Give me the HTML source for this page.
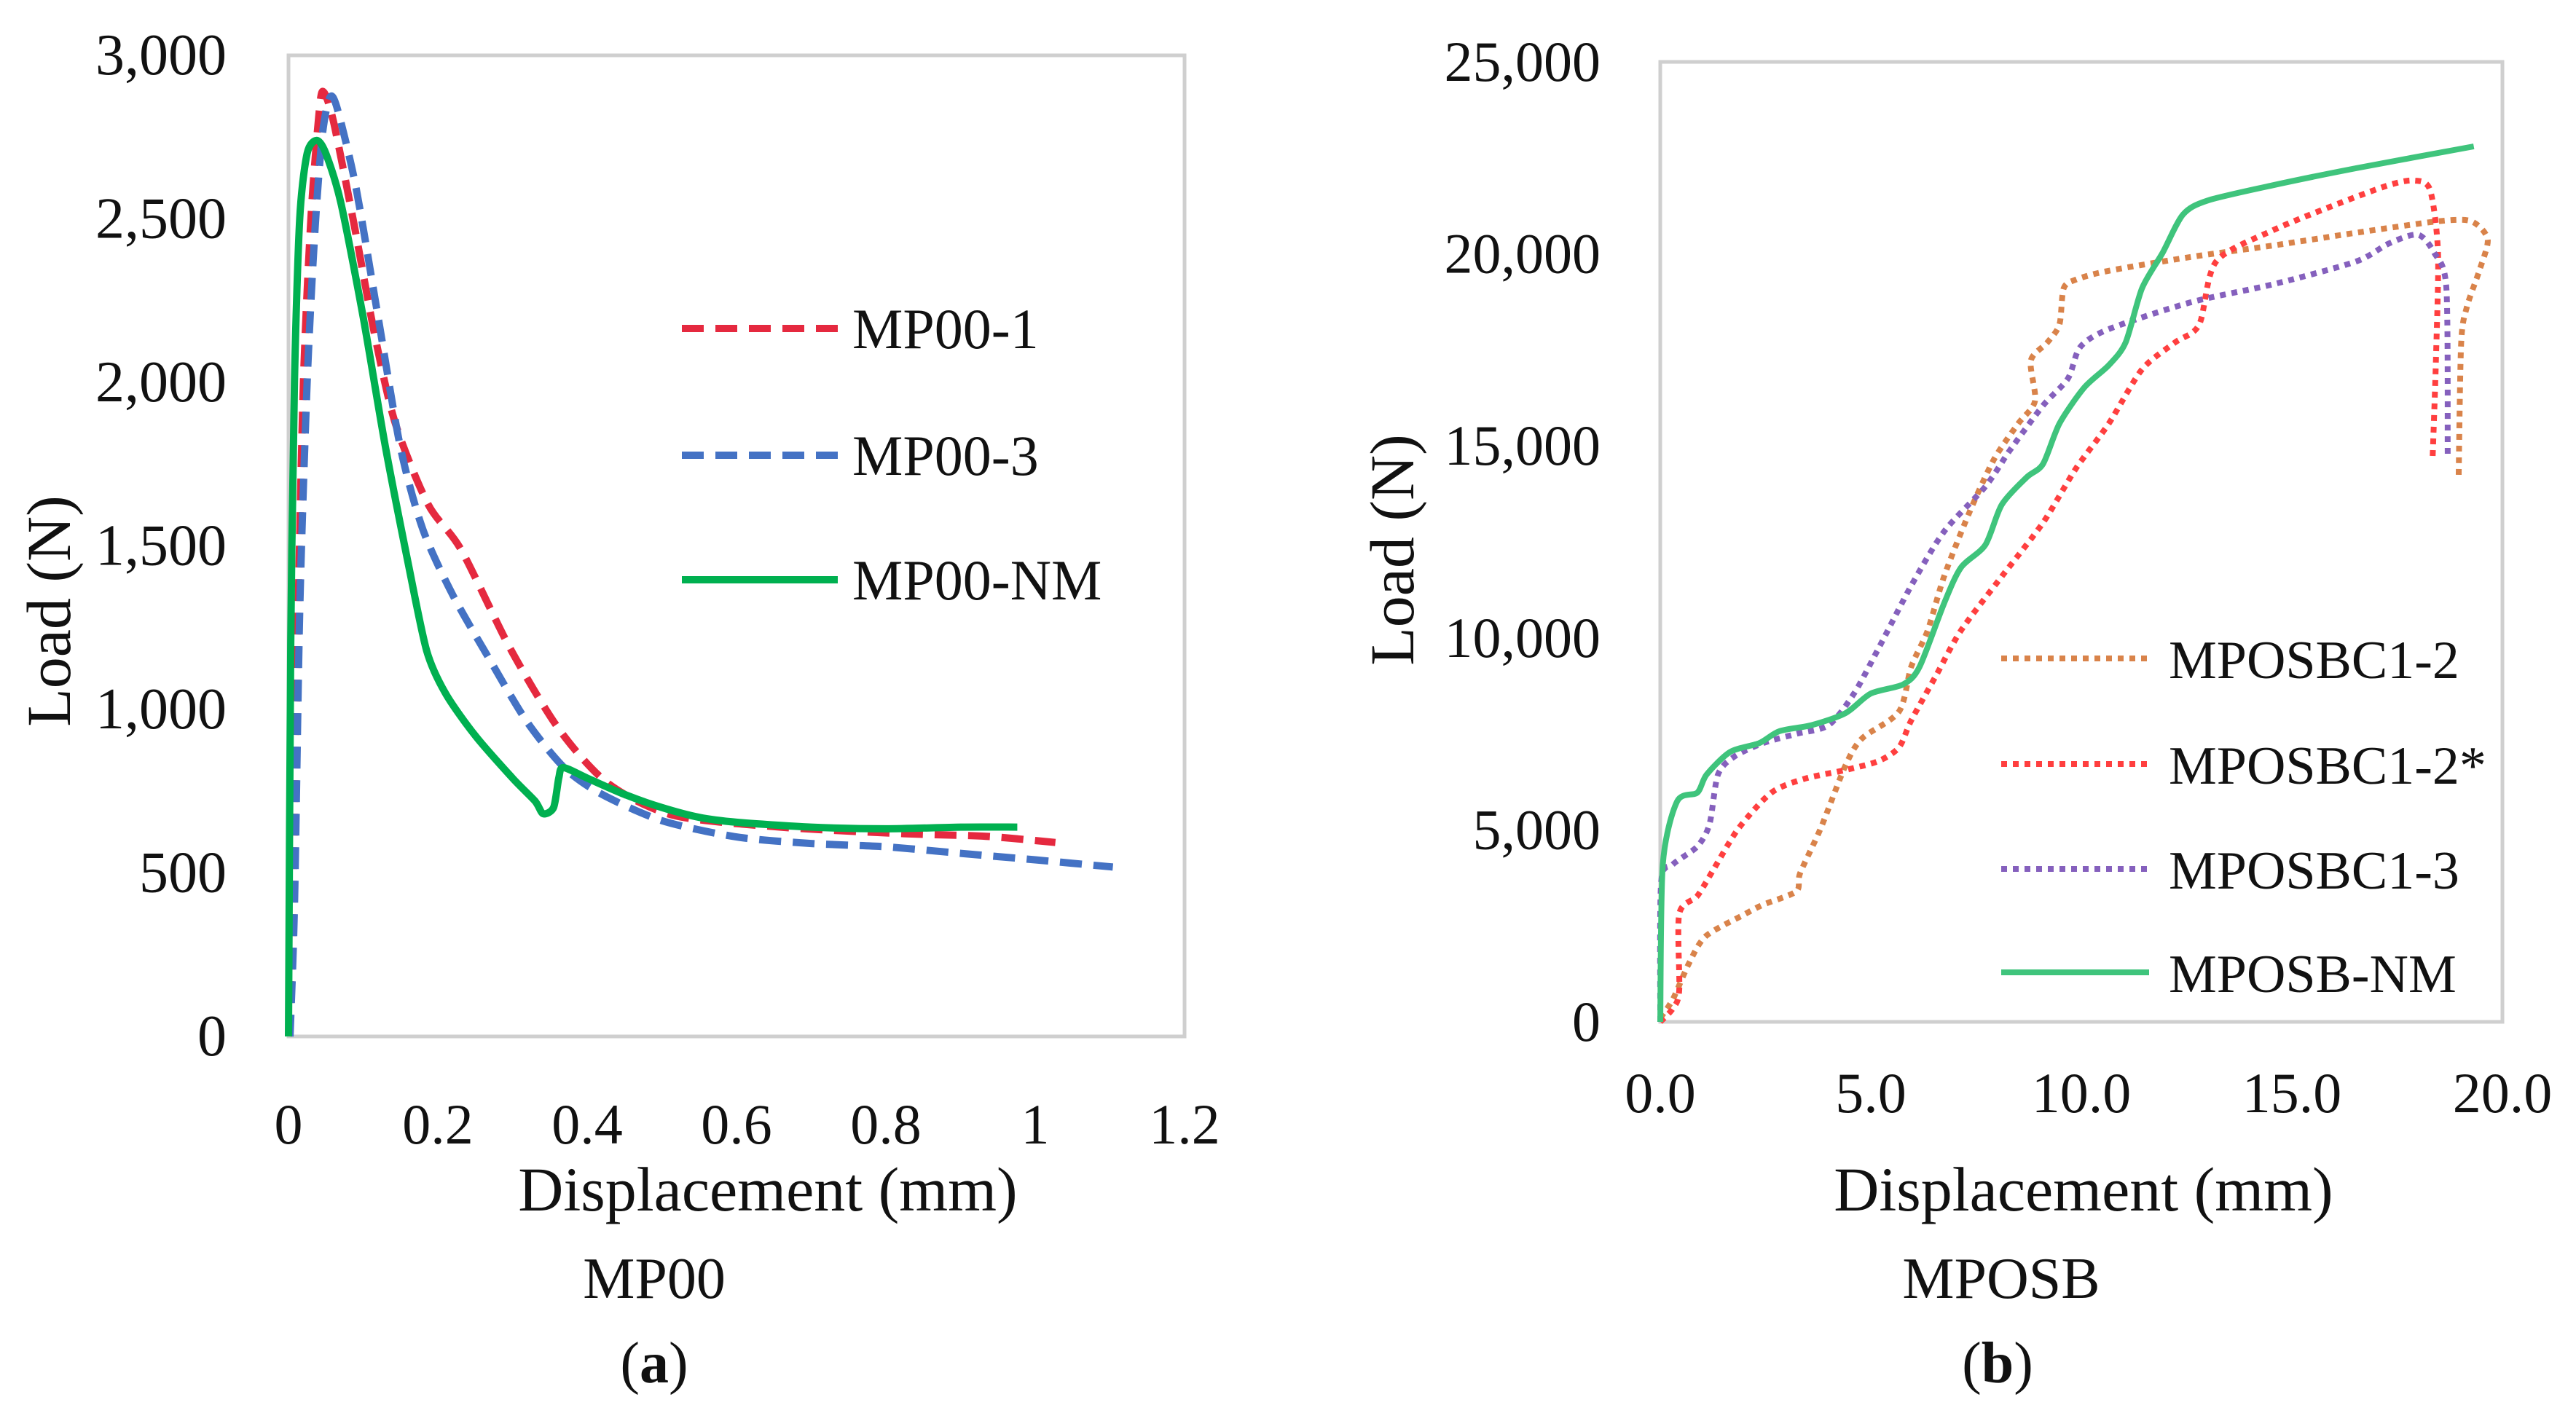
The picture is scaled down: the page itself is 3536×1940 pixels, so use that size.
<!DOCTYPE html>
<html><head><meta charset="utf-8"><style>
html,body{margin:0;padding:0;background:#fff}
svg{display:block}
text{font-family:"Liberation Serif",serif;fill:#111}
</style></head><body>
<svg id="fig" width="3536" height="1940" viewBox="0 0 3536 1940" xmlns="http://www.w3.org/2000/svg">
<g id="ga"></g>
<g id="gb"></g>
</svg>
<script>
// ---- Chart (a) data ----
const aXTicks = [0,0.2,0.4,0.6,0.8,1,1.2];
const aXTickLabels = ["0","0.2","0.4","0.6","0.8","1","1.2"];
const aYTicks = [0,500,1000,1500,2000,2500,3000];
const aYTickLabels = ["0","500","1,000","1,500","2,000","2,500","3,000"];
const aNames = ["MP00-1","MP00-3","MP00-NM"];
const mp001X = [0,0.005,0.012,0.02,0.03,0.04,0.046,0.06,0.088,0.115,0.143,0.187,0.231,0.297,0.363,0.429,0.516,0.659,0.824,0.934,1.027];
const mp001Y = [0,300,1200,2000,2500,2800,2890,2800,2481,2150,1875,1627,1489,1186,937,772,676,640,620,612,593];
const mp003X = [0.002,0.008,0.015,0.025,0.035,0.045,0.055,0.065,0.09,0.12,0.15,0.18,0.22,0.27,0.32,0.37,0.42,0.5,0.6,0.7,0.8,0.9,1.0,1.104];
const mp003Y = [0,400,1300,2000,2450,2750,2870,2840,2600,2200,1800,1550,1350,1150,960,820,740,660,610,590,580,560,540,518];
const mp00nmX = [0,0.003,0.008,0.015,0.025,0.038,0.05,0.07,0.1,0.13,0.16,0.185,0.21,0.25,0.3,0.33,0.341,0.355,0.362,0.368,0.4,0.45,0.5,0.55,0.6,0.7,0.8,0.9,0.976];
const mp00nmY = [0,1200,2000,2500,2700,2740,2700,2550,2200,1800,1450,1180,1050,920,790,720,681,700,790,822,790,740,700,670,655,640,635,640,640];

// ---- Chart (b) data ----
const bXTicks = [0,5,10,15,20];
const bXTickLabels = ["0.0","5.0","10.0","15.0","20.0"];
const bYTicks = [0,5000,10000,15000,20000,25000];
const bYTickLabels = ["0","5,000","10,000","15,000","20,000","25,000"];
const bNames = ["MPOSBC1-2","MPOSBC1-2*","MPOSBC1-3","MPOSB-NM"];
const c12X = [0,0.3,0.68,1.08,2.0,2.44,3.23,3.32,3.81,4.4,4.79,5.67,5.96,6.35,6.74,7.33,7.92,8.5,8.9,8.8,9.19,9.48,9.58,9.87,10.65,12.6,14.56,16.52,18.47,19.26,19.65,19.45,19.16,19.02,18.96];
const c12Y = [100,590,1520,2230,2800,3050,3400,3870,5040,6680,7380,8080,9250,10190,11600,13240,14640,15580,16170,17220,17690,18160,19100,19330,19560,19920,20220,20550,20850,20850,20380,19560,18630,17690,14180];
const c12sX = [0,0.3,0.45,0.45,0.88,1.27,1.86,2.64,3.42,4.4,5.18,5.67,5.96,6.55,7.14,8.11,9.09,9.87,10.65,11.44,12.22,12.8,13.2,14.56,16.13,17.3,17.89,18.28,18.47,18.42,18.34];
const c12sY = [0,350,820,2810,3280,3980,5040,5970,6330,6560,6790,7150,7850,9020,10190,11600,13000,14410,15580,16990,17690,18160,19800,20620,21320,21790,21910,21670,20030,17220,14640];
const c13X = [0,0.02,0.3,0.88,1.17,1.37,1.76,2.44,3.23,4.0,4.6,5.18,5.96,6.74,7.72,8.3,9.09,9.68,9.97,10.65,12.6,14.56,16.52,17.3,17.99,18.38,18.67,18.7];
const c13Y = [0,3630,4100,4570,5150,6440,6910,7260,7500,7730,8550,9720,11360,12770,13940,14880,16050,16750,17570,18040,18740,19210,19800,20270,20500,20030,19100,14760];
const nmX = [0,0.06,0.4,0.88,1.1,1.66,2.35,2.83,3.6,4.4,5.0,5.77,6.16,6.74,7.14,7.72,8.11,8.7,9.09,9.48,10.07,10.65,11.05,11.44,11.93,12.41,13.0,14.56,16.52,19.32];
const nmY = [0,4100,5740,5970,6440,7030,7260,7570,7730,8040,8550,8790,9250,10900,11830,12420,13470,14180,14530,15580,16520,17100,17690,19100,20030,21020,21390,21790,22230,22800];

const NS = "http://www.w3.org/2000/svg";
function mk(parent, tag, attrs){
  const e = document.createElementNS(NS, tag);
  for (const k in attrs) e.setAttribute(k, attrs[k]);
  parent.appendChild(e);
  return e;
}
// smooth Catmull-Rom path through points
function pathD(xs, ys, sx, sy){
  const P = xs.map((x,i)=>[sx(x), sy(ys[i])]);
  let d = "M"+P[0][0].toFixed(1)+","+P[0][1].toFixed(1);
  const t = 0.4;
  for (let i=0;i<P.length-1;i++){
    const p0=P[Math.max(0,i-1)], p1=P[i], p2=P[i+1], p3=P[Math.min(P.length-1,i+2)];
    const c1=[p1[0]+(p2[0]-p0[0])*t/3, p1[1]+(p2[1]-p0[1])*t/3];
    const c2=[p2[0]-(p3[0]-p1[0])*t/3, p2[1]-(p3[1]-p1[1])*t/3];
    d += " C"+c1[0].toFixed(1)+","+c1[1].toFixed(1)+" "+c2[0].toFixed(1)+","+c2[1].toFixed(1)+" "+p2[0].toFixed(1)+","+p2[1].toFixed(1);
  }
  return d;
}

// ---------- Chart A ----------
const ga = document.getElementById("ga");
const aL=396,aR=1626,aT=76,aB=1423;
const axA = v => aL + v/1.2*(aR-aL);
const ayA = v => aB - v/3000*(aB-aT);
let r = mk(ga,"rect",{x:aL,y:aT,width:aR-aL,height:aB-aT,fill:"none",stroke:"#cfcfcf","stroke-width":5});


aYTicks.forEach((v,i)=>{
  const t = mk(ga,"text",{x:311,y:ayA(v)+26,"text-anchor":"end","font-size":80});
  t.textContent = aYTickLabels[i];
  
  
});
aXTicks.forEach((v,i)=>{
  const t = mk(ga,"text",{x:axA(v),y:1570,"text-anchor":"middle","font-size":78});
  t.textContent = aXTickLabels[i];
  
  
});
let tt = mk(ga,"text",{x:1054,y:1662,"text-anchor":"middle","font-size":86});
tt.textContent="Displacement (mm)";


tt = mk(ga,"text",{x:0,y:0,"text-anchor":"middle","font-size":86,transform:"translate(96,839) rotate(-90)"});
tt.textContent="Load (N)";


tt = mk(ga,"text",{x:898,y:1782,"text-anchor":"middle","font-size":80});
tt.textContent="MP00";


tt = mk(ga,"text",{x:898,y:1898,"text-anchor":"middle","font-size":80});
tt.innerHTML='(<tspan font-weight="bold">a</tspan>)';



const aSeries = [
  {x:mp001X,y:mp001Y,c:"#e5293f",d:"30 16",w:10,name:"series-mp00-1"},
  {x:mp003X,y:mp003Y,c:"#4472c4",d:"30 16",w:10,name:"series-mp00-3"},
  {x:mp00nmX,y:mp00nmY,c:"#00b050",d:"none",w:10,name:"series-mp00-nm"}
];
const aLegY=[451,625,796];
aSeries.forEach((s,i)=>{
  const p = mk(ga,"path",{d:pathD(s.x,s.y,axA,ayA),fill:"none",stroke:s.c,"stroke-width":s.w,"stroke-dasharray":s.d,"stroke-linejoin":"round"});
  
  
  const l = mk(ga,"line",{x1:936,x2:1150,y1:aLegY[i],y2:aLegY[i],stroke:s.c,"stroke-width":s.w,"stroke-dasharray":s.d});
  
  
  const t = mk(ga,"text",{x:1170,y:aLegY[i]+27,"font-size":78});
  t.textContent = aNames[i];
  
  
});

// ---------- Chart B ----------
const gb = document.getElementById("gb");
const bL=2279,bR=3435,bT=85,bB=1403;
const axB = v => bL + v/20*(bR-bL);
const ayB = v => bB - v/25000*(bB-bT);
r = mk(gb,"rect",{x:bL,y:bT,width:bR-bL,height:bB-bT,fill:"none",stroke:"#cfcfcf","stroke-width":5});


bYTicks.forEach((v,i)=>{
  const t = mk(gb,"text",{x:2197,y:ayB(v)+26,"text-anchor":"end","font-size":78});
  t.textContent = bYTickLabels[i];
  
  
});
bXTicks.forEach((v,i)=>{
  const t = mk(gb,"text",{x:axB(v),y:1527,"text-anchor":"middle","font-size":78});
  t.textContent = bXTickLabels[i];
  
  
});
tt = mk(gb,"text",{x:2860,y:1662,"text-anchor":"middle","font-size":86});
tt.textContent="Displacement (mm)";


tt = mk(gb,"text",{x:0,y:0,"text-anchor":"middle","font-size":86,transform:"translate(1940,755) rotate(-90)"});
tt.textContent="Load (N)";


tt = mk(gb,"text",{x:2747,y:1782,"text-anchor":"middle","font-size":80});
tt.textContent="MPOSB";


tt = mk(gb,"text",{x:2742,y:1898,"text-anchor":"middle","font-size":80});
tt.innerHTML='(<tspan font-weight="bold">b</tspan>)';



const bSeries = [
  {x:c12X,y:c12Y,c:"#d9834a",d:"8 8",w:8,name:"series-mposbc1-2"},
  {x:c12sX,y:c12sY,c:"#ff3f3f",d:"8 8",w:8,name:"series-mposbc1-2-star"},
  {x:c13X,y:c13Y,c:"#8560bd",d:"8 8",w:8,name:"series-mposbc1-3"},
  {x:nmX,y:nmY,c:"#3fc47c",d:"none",w:8,name:"series-mposb-nm"}
];
const bLegY=[904,1049,1193,1335];
bSeries.forEach((s,i)=>{
  const p = mk(gb,"path",{d:pathD(s.x,s.y,axB,ayB),fill:"none",stroke:s.c,"stroke-width":s.w,"stroke-dasharray":s.d,"stroke-linejoin":"round"});
  
  
  const l = mk(gb,"line",{x1:2747,x2:2950,y1:bLegY[i],y2:bLegY[i],stroke:s.c,"stroke-width":s.w,"stroke-dasharray":s.d});
  
  
  const t = mk(gb,"text",{x:2977,y:bLegY[i]+27,"font-size":74});
  t.textContent = bNames[i];
  
  
});
</script>
</body></html>
